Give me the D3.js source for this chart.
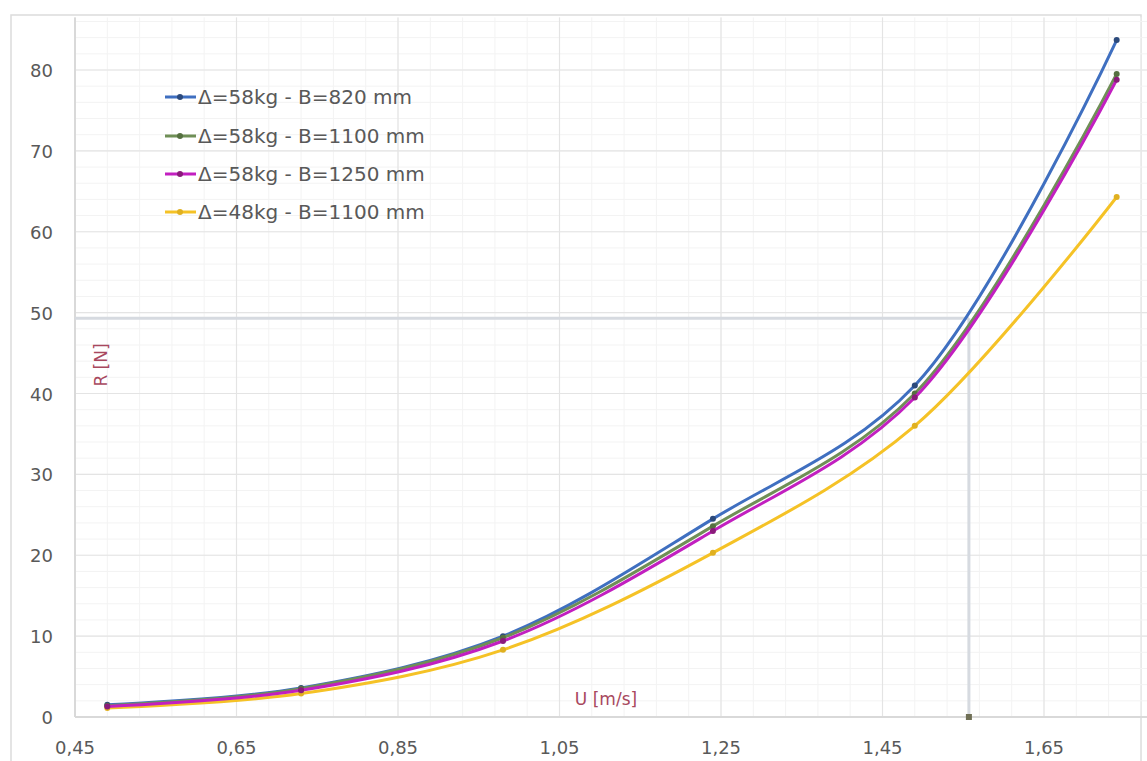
<!DOCTYPE html>
<html><head><meta charset="utf-8">
<script src="https://cdn.jsdelivr.net/npm/d3@7"></script>
<style>body{margin:0;background:#fff;}svg{display:block;font-family:"DejaVu Sans",sans-serif;}</style>
</head><body>
<svg id="c" width="1147" height="761"></svg>
<script>
// ---- data ----
const speedU = [0.49, 0.73, 0.98, 1.24, 1.49, 1.74];
const r58_820  = [1.5, 3.6, 10.0, 24.5, 41.0, 83.7];
const r58_1100 = [1.4, 3.5, 9.8, 23.6, 40.0, 79.5];
const r58_1250 = [1.3, 3.3, 9.4, 23.0, 39.5, 78.8];
const r48_1100 = [1.1, 2.9, 8.3, 20.3, 36.0, 64.3];
const seriesNames = ["Δ=58kg - B=820 mm","Δ=58kg - B=1100 mm","Δ=58kg - B=1250 mm","Δ=48kg - B=1100 mm"];
const seriesColors = ["#3f6fc0","#6f8f56","#c21fc0","#f5c226"];
const markerColors = ["#2c4a7c","#557040","#8a1a7a","#e0b020"];
const crossU = 1.557, crossR = 49.3;
const xTicks = [0.45,0.65,0.85,1.05,1.25,1.45,1.65];
const yTicks = [0,10,20,30,40,50,60,70,80];

const svg = d3.select("#c");
const x = d3.scaleLinear().domain([0.45,1.65]).range([75,1044]);
const y = d3.scaleLinear().domain([0,80]).range([717,70]);
const xMax = 1.78, yMax = 86.5;

// frame
svg.append("rect").attr("x",11).attr("y",15).attr("width",1130).attr("height",760)
  .attr("fill","none").attr("stroke","#dcdcdc").attr("stroke-width",1.5);

// minor grid
const g = svg.append("g");
for (let v=0; v<=yMax; v+=2) g.append("line").attr("x1",x(0.45)).attr("x2",x(xMax)).attr("y1",y(v)).attr("y2",y(v)).attr("stroke","#f3f3f3");
for (let v=0.45; v<=xMax; v+=0.04) g.append("line").attr("x1",x(v)).attr("x2",x(v)).attr("y1",y(0)).attr("y2",y(yMax)).attr("stroke","#f3f3f3");
// major grid
yTicks.forEach(v=>g.append("line").attr("x1",x(0.45)).attr("x2",x(xMax)).attr("y1",y(v)).attr("y2",y(v)).attr("stroke","#e4e4e4").attr("stroke-width",1.2));
xTicks.forEach(v=>g.append("line").attr("x1",x(v)).attr("x2",x(v)).attr("y1",y(0)).attr("y2",y(yMax)).attr("stroke","#e4e4e4").attr("stroke-width",1.2));
// axes lines
svg.append("line").attr("x1",x(0.45)).attr("x2",x(xMax)).attr("y1",y(0)).attr("y2",y(0)).attr("stroke","#d9d9d9").attr("stroke-width",2);
svg.append("line").attr("x1",x(0.45)).attr("x2",x(0.45)).attr("y1",y(0)).attr("y2",y(yMax)).attr("stroke","#d9d9d9").attr("stroke-width",2);

// tick labels
const fmt = d3.format(".2f");
svg.append("g").selectAll("text").data(xTicks).join("text")
  .attr("x",d=>x(d)).attr("y",754).attr("text-anchor","middle")
  .attr("font-size",18).attr("fill","#595959").text(d=>fmt(d).replace(".",","));
svg.append("g").selectAll("text").data(yTicks).join("text")
  .attr("x",53).attr("y",d=>y(d)+7).attr("text-anchor","end")
  .attr("font-size",18).attr("fill","#595959").text(d=>d);

// crosshair
svg.append("line").attr("x1",x(0.45)).attr("x2",x(crossU)).attr("y1",y(crossR)).attr("y2",y(crossR)).attr("stroke","#d6dae0").attr("stroke-width",3);
svg.append("line").attr("x1",x(crossU)).attr("x2",x(crossU)).attr("y1",y(crossR)).attr("y2",y(0)).attr("stroke","#d6dae0").attr("stroke-width",3);
svg.append("rect").attr("x",x(crossU)-3).attr("y",y(0)-3).attr("width",6).attr("height",6).attr("fill","#6f6f55");

// series
const allSeries = [r58_820, r58_1100, r58_1250, r48_1100];
const line = d3.line().x(d=>x(d[0])).y(d=>y(d[1])).curve(d3.curveCatmullRom.alpha(0.5));
const drawOrder = [3,0,1,2];
drawOrder.forEach(i=>{
  const pts = speedU.map((u,k)=>[u,allSeries[i][k]]);
  svg.append("path").attr("d",line(pts)).attr("fill","none").attr("stroke",seriesColors[i]).attr("stroke-width",3).attr("stroke-linejoin","round");
  svg.append("g").selectAll("circle").data(pts).join("circle")
    .attr("cx",d=>x(d[0])).attr("cy",d=>y(d[1])).attr("r",3).attr("fill",markerColors[i]);
});

// axis titles
svg.append("text").attr("transform","translate(107,365) rotate(-90)").attr("text-anchor","middle")
  .attr("font-size",17).attr("fill","#a8485e").text("R [N]");
svg.append("text").attr("x",606).attr("y",705).attr("text-anchor","middle")
  .attr("font-size",17).attr("fill","#a8485e").text("U [m/s]");

// legend
const lg = svg.append("g");
seriesNames.forEach((n,i)=>{
  const yy = [97,136,174,212][i];
  lg.append("line").attr("x1",165).attr("x2",196).attr("y1",yy).attr("y2",yy).attr("stroke",seriesColors[i]).attr("stroke-width",3);
  lg.append("circle").attr("cx",180).attr("cy",yy).attr("r",3).attr("fill",markerColors[i]);
  lg.append("text").attr("x",198).attr("y",yy+7).attr("font-size",20).attr("fill","#595959").text(n);
});
</script>
</body></html>
